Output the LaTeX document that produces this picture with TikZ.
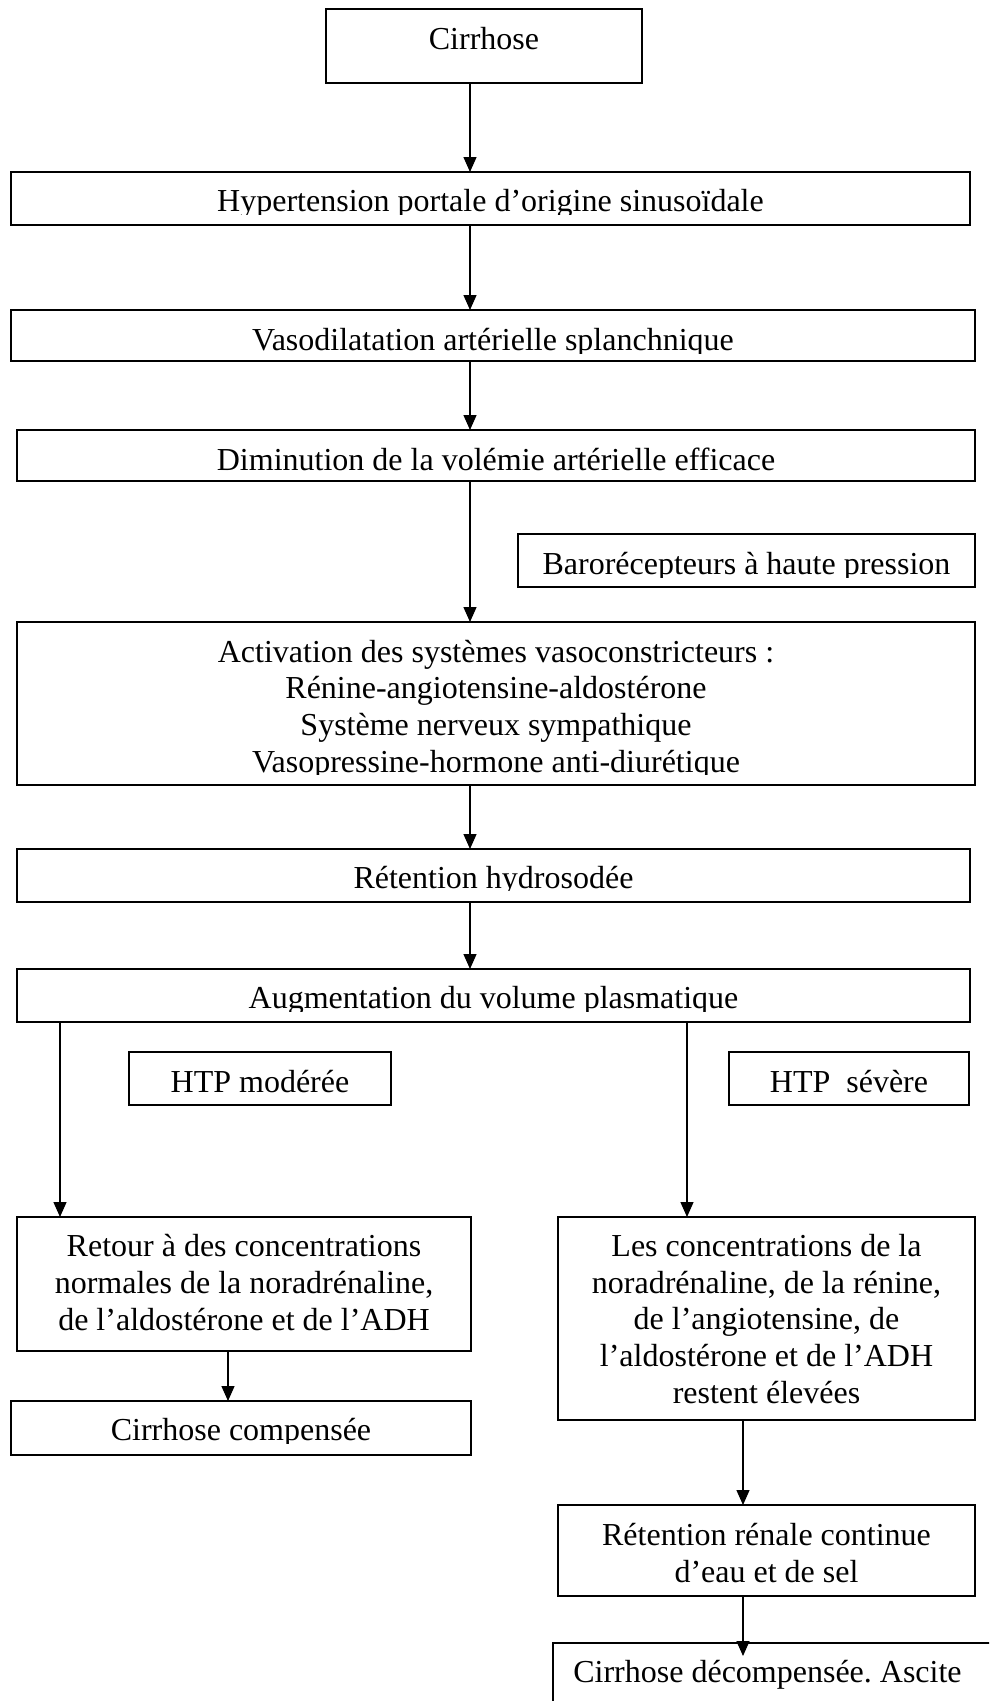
\documentclass[tikz,border=0pt]{standalone}
\usepackage{fontspec}
\setmainfont{Liberation Serif}
\usetikzlibrary{arrows.meta}
\frenchspacing
\begin{document}
\begin{tikzpicture}[x=1pt,y=-1pt,
  box/.style={draw, line width=1.8pt, inner sep=0pt, outer sep=0pt, rectangle},
  txt/.style={anchor=base, inner sep=0pt, outer sep=0pt, font=\fontsize{32}{37}\selectfont},
  arr/.style={line width=1.3pt, -{Triangle[length=15pt,width=13pt]}}]
\useasboundingbox (0,0) rectangle (989,1701);
\fill[white] (0,0) rectangle (989,1701);
\clip (0,0) rectangle (989,1701);

% x positions of connectors
\coordinate (xa) at (470,0);
\coordinate (xl) at (60,0);
\coordinate (xr) at (687,0);
\coordinate (xc) at (228,0);
\coordinate (xd) at (743,0);
\coordinate (dtip) at (743,1656);

% boxes
\node[box, minimum width=316pt, minimum height=74pt] (cirr) at (484,46) {};
\node[box, minimum width=959pt, minimum height=53pt] (htp) at (490.5,198.5) {};
\node[box, minimum width=964pt, minimum height=51pt] (vaso) at (493,335.5) {};
\node[box, minimum width=958pt, minimum height=51pt] (dimin) at (496,455.5) {};
\node[box, minimum width=457pt, minimum height=53pt] (baro) at (746.5,560.5) {};
\node[box, minimum width=958pt, minimum height=163pt] (activ) at (496,703.5) {};
\node[box, minimum width=953pt, minimum height=53pt] (reten) at (493.5,875.5) {};
\node[box, minimum width=953pt, minimum height=53pt] (augm) at (493.5,995.5) {};
\node[box, minimum width=262pt, minimum height=53pt] (modere) at (260,1078.5) {};
\node[box, minimum width=240pt, minimum height=53pt] (severe) at (849,1078.5) {};
\node[box, minimum width=454pt, minimum height=134pt] (retour) at (244,1284) {};
\node[box, minimum width=417pt, minimum height=203pt] (lesconc) at (766.5,1318.5) {};
\node[box, minimum width=460pt, minimum height=54pt] (compens) at (241,1428) {};
\node[box, minimum width=417pt, minimum height=91pt] (renale) at (766.5,1550.5) {};
\node[box, minimum width=457pt, minimum height=77pt] (decomp) at (781.5,1681.5) {};

% texts
\node[txt] (t-cirr) at (484,49) {Cirrhose};
\begin{scope}
\clip (11,172) rectangle (970,214);
\node[txt] (t-htp) at (490.5,211) {Hypertension portale d’origine sinusoïdale};
\end{scope}
\begin{scope}
\clip (11,310) rectangle (975,353);
\node[txt] (t-vaso) at (493,350) {Vasodilatation artérielle splanchnique};
\end{scope}
\node[txt] (t-dimin) at (496,470) {Diminution de la volémie artérielle efficace};
\begin{scope}
\clip (518,534) rectangle (975,577);
\node[txt] (t-baro) at (746.5,574) {Barorécepteurs à haute pression};
\end{scope}
\begin{scope}
\clip (17,622) rectangle (975,774.5);
\node[txt] (t-act1) at (496,662) {Activation des systèmes vasoconstricteurs :};
\node[txt] (t-act2) at (496,698.5) {Rénine-angiotensine-aldostérone};
\node[txt] (t-act3) at (496,735) {Système nerveux sympathique};
\node[txt] (t-act4) at (496,772) {Vasopressine-hormone anti-diurétique};
\end{scope}
\begin{scope}
\clip (17,849) rectangle (970,890.5);
\node[txt] (t-reten) at (493.5,888) {Rétention hydrosodée};
\end{scope}
\begin{scope}
\clip (17,969) rectangle (970,1011);
\node[txt] (t-augm) at (493.5,1008) {Augmentation du volume plasmatique};
\end{scope}
\node[txt] (t-modere) at (260,1092) {HTP modérée};
\node[txt] (t-severe) at (849,1092) {HTP\ \ sévère};
\node[txt] (t-ret1) at (244,1256) {Retour à des concentrations};
\node[txt] (t-ret2) at (244,1293) {normales de la noradrénaline,};
\node[txt] (t-ret3) at (244,1330.5) {de l’aldostérone et de l’ADH};
\node[txt] (t-les1) at (766.5,1256) {Les concentrations de la};
\node[txt] (t-les2) at (766.5,1293) {noradrénaline, de la rénine,};
\node[txt] (t-les3) at (766.5,1329.5) {de l’angiotensine, de};
\node[txt] (t-les4) at (766.5,1366.5) {l’aldostérone et de l’ADH};
\node[txt] (t-les5) at (766.5,1403.5) {restent élevées};
\begin{scope}
\clip (11,1401) rectangle (471,1443);
\node[txt] (t-comp) at (241,1440) {Cirrhose compensée};
\end{scope}
\node[txt] (t-ren1) at (766.5,1545) {Rétention rénale continue};
\node[txt] (t-ren2) at (766.5,1582) {d’eau et de sel};
\node[txt] (t-dec) at (767.5,1682) {Cirrhose décompensée. Ascite};

% connectors
\draw[arr] (cirr.south -| xa) -- (htp.north -| xa);
\draw[arr] (htp.south -| xa) -- (vaso.north -| xa);
\draw[arr] (vaso.south -| xa) -- (dimin.north -| xa);
\draw[arr] (dimin.south -| xa) -- (activ.north -| xa);
\draw[arr] (activ.south -| xa) -- (reten.north -| xa);
\draw[arr] (reten.south -| xa) -- (augm.north -| xa);
\draw[arr] (augm.south -| xl) -- (retour.north -| xl);
\draw[arr] (augm.south -| xr) -- (lesconc.north -| xr);
\draw[arr] (retour.south -| xc) -- (compens.north -| xc);
\draw[arr] (lesconc.south -| xd) -- (renale.north -| xd);
\draw[arr] (renale.south -| xd) -- (dtip);
\end{tikzpicture}
\end{document}
